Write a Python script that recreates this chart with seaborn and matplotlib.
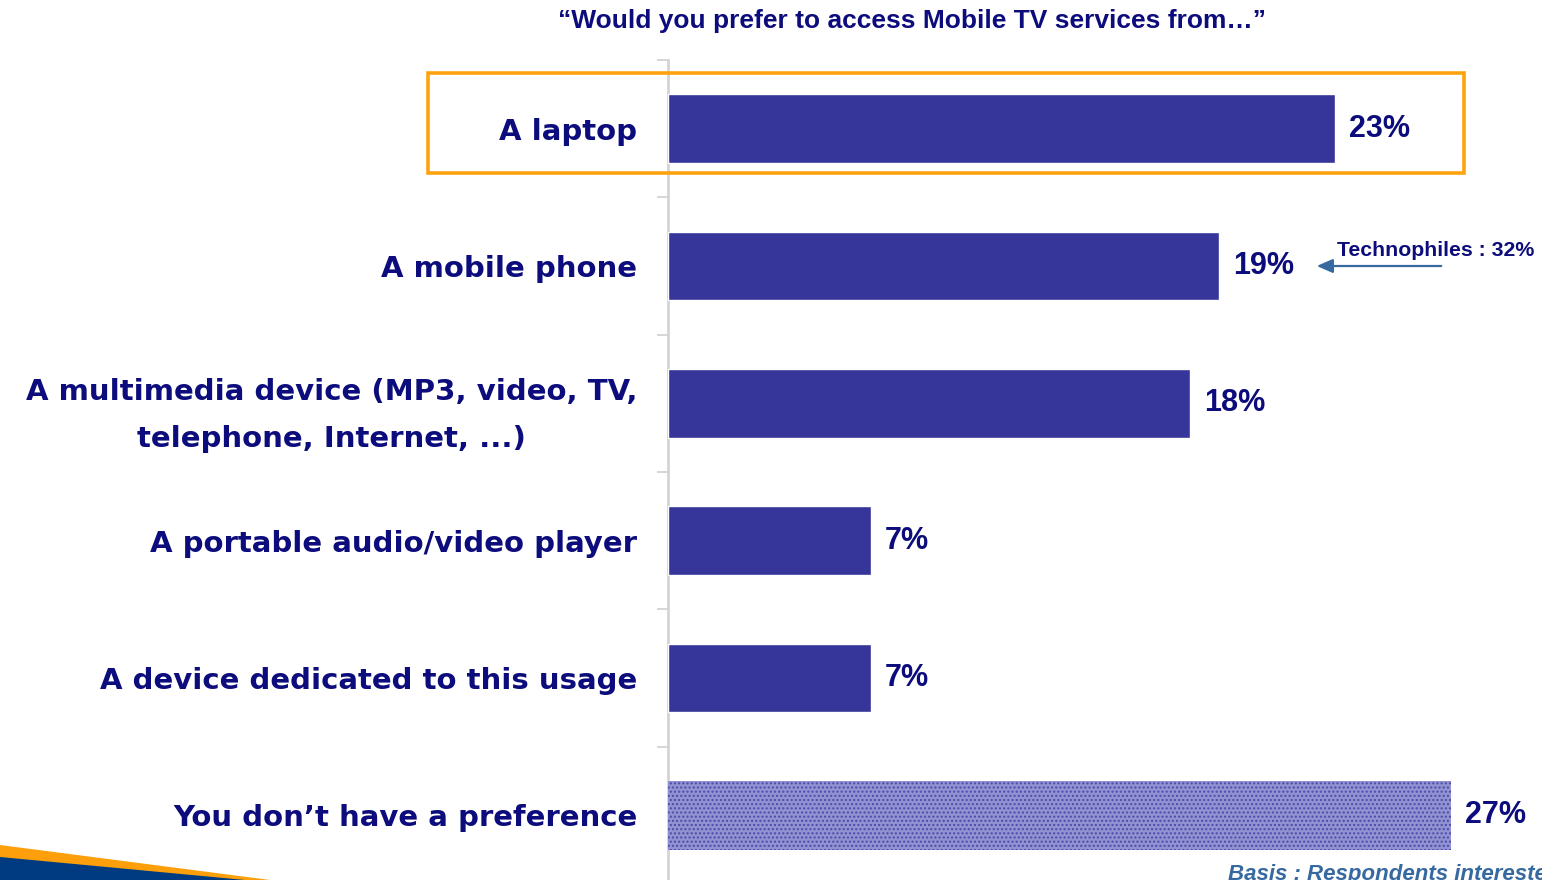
import matplotlib
matplotlib.use("Agg")
import matplotlib.pyplot as plt
from matplotlib.patches import Rectangle, Polygon
import seaborn as sns
import pandas as pd

# Survey answers: preferred device for Mobile TV
categories = [
    "A laptop",
    "A mobile phone",
    "A multimedia device (MP3, video, TV,\ntelephone, Internet, ...)",
    "A portable audio/video player",
    "A device dedicated to this usage",
    "You don\u2019t have a preference",
]
shares = [23, 19, 18, 7, 7, 27]
value_labels = ["23%", "19%", "18%", "7%", "7%", "27%"]

title = "\u201cWould you prefer to access Mobile TV services from\u2026\u201d"
note_text = "Technophiles : 32%"
basis_text = "Basis : Respondents interested in Mobile TV"

BAR = "#35359a"
NAVY = "#0c0c7c"
ORANGE = "#ffa20f"
STEEL = "#36699f"

sns.set_theme(style="white")
plt.rcParams["font.family"] = ["Liberation Sans", "DejaVu Sans"]

W, H = 1542, 880
fig = plt.figure(figsize=(W / 100, H / 100), dpi=100)
ax = fig.add_axes([668 / W, (H - 884) / H, 874 / W, 824 / H])

df = pd.DataFrame({"device": categories, "share": shares})
sns.barplot(data=df, y="device", x="share", orient="h", color=BAR,
            width=0.5, saturation=1, ax=ax, zorder=3)

# the "no preference" bar is shown with a light dotted fill
nopref = ax.patches[-1]
nopref.set_facecolor("#9292d2")
nopref.set_edgecolor("#4a4aaa")
nopref.set_hatch("....")
nopref.set_linewidth(0)

ax.set_xlim(0, 874 / 29.0)
ax.set_ylim(len(categories) - 0.5, -0.5)
ax.set_xlabel("")
ax.set_ylabel("")
ax.set_xticks([])

# category separators drawn as short ticks on the left spine
ax.set_yticks([i - 0.5 for i in range(len(categories) + 1)], minor=True)
ax.tick_params(axis="y", which="minor", length=8, width=1.2, color="#cfcfcf", left=True)
ax.tick_params(axis="y", which="major", length=0, pad=22)
ax.set_yticks(range(len(categories)))
ax.set_yticklabels(categories, fontsize=21, fontweight="bold", color=NAVY,
                   family=["DejaVu Sans"], multialignment="center",
                   linespacing=1.85)

for side in ["top", "right", "bottom"]:
    ax.spines[side].set_visible(False)
ax.spines["left"].set_color("#d4d4d4")
ax.spines["left"].set_linewidth(2)

for i, (v, lab) in enumerate(zip(shares, value_labels)):
    ax.annotate(lab, xy=(v, i), xytext=(10, 0), textcoords="offset points",
                ha="left", va="center", fontsize=22, fontweight="bold", color=NAVY)

# title
fig.text(912 / W, 1 - 21 / H, title, ha="center", va="center",
         fontsize=19, fontweight="bold", color=NAVY)

# highlight frame around the first answer
fig.patches.append(Rectangle((428 / W, 1 - 173 / H), (1464 - 428) / W, (173 - 73) / H,
                             transform=fig.transFigure, fill=False,
                             edgecolor=ORANGE, linewidth=2.6, zorder=5))

# technophiles call-out
fig.text(1337 / W, 1 - 250 / H, note_text, ha="left", va="center",
         fontsize=15.3, fontweight="bold", color=NAVY)
ax.annotate("", xy=(1314 / W, 1 - 266 / H), xytext=(1444 / W, 1 - 266 / H),
            xycoords="figure fraction", textcoords="figure fraction",
            arrowprops=dict(arrowstyle="-|>,head_length=0.8,head_width=0.35",
                            color=STEEL, lw=1.6))

# basis footnote (runs off the page edge)
fig.text(1228 / W, 1 - 874 / H, basis_text, ha="left", va="center",
         fontsize=16, fontweight="bold", style="italic", color=STEEL)

# decorative swoosh in the lower-left corner
fig.patches.append(Polygon([(0, 1 - 845 / H), (270 / W, 0), (0, 0)],
                           closed=True, transform=fig.transFigure,
                           facecolor="#fc9f0a", edgecolor="none"))
fig.patches.append(Polygon([(0, 1 - 857 / H), (245 / W, 0), (0, 0)],
                           closed=True, transform=fig.transFigure,
                           facecolor="#003a80", edgecolor="none"))

fig.savefig("out.png", dpi=100)
